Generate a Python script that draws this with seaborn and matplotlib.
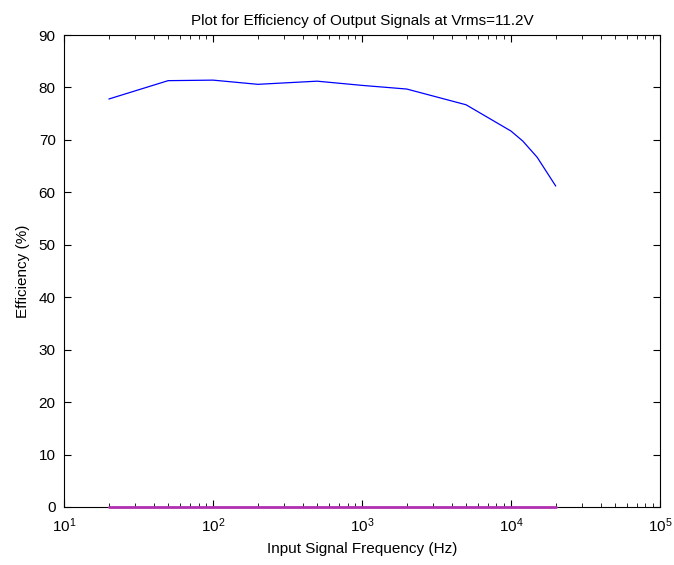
import numpy as np
import pandas as pd
import matplotlib
matplotlib.use("Agg")
import matplotlib.pyplot as plt
import seaborn as sns

sns.set_style("ticks")
plt.rcParams["font.family"] = ["Liberation Sans", "DejaVu Sans"]
plt.rcParams["text.color"] = "black"
plt.rcParams["axes.labelcolor"] = "black"
plt.rcParams["xtick.color"] = "black"
plt.rcParams["ytick.color"] = "black"
plt.rcParams["axes.edgecolor"] = "black"

# frequencies (Hz) and efficiencies (%)
freq = [20, 50, 100, 200, 500, 1000, 2000, 5000, 10000, 12000, 15000, 20000]
eff_out = [77.8, 81.3, 81.4, 80.6, 81.2, 80.4, 79.7, 76.7, 71.7, 69.8, 66.7, 61.2]
eff_zero = [0, 0, 0, 0, 0, 0, 0, 0, 0, 0, 0, 0]

df = pd.DataFrame({"freq": freq, "eff": eff_out})
df0 = pd.DataFrame({"freq": freq, "eff": eff_zero})

fig = plt.figure(figsize=(6.74, 5.65), dpi=100)
ax = fig.add_axes([0.095, 0.1027, 0.884, 0.8353])

sns.lineplot(data=df, x="freq", y="eff", ax=ax, color="#0000ff", linewidth=0.9)
sns.lineplot(data=df0, x="freq", y="eff", ax=ax, color="#b030b0", linewidth=2.0,
             clip_on=False, zorder=5)

ax.set_xscale("log")
ax.set_xlim(10, 1e5)
ax.set_ylim(0, 90)
ax.set_yticks(range(0, 91, 10))

for s in ax.spines.values():
  s.set_visible(True)
  s.set_linewidth(0.8)
ax.tick_params(which="both", direction="in", top=True, right=True, labelsize=11)
ax.tick_params(which="major", length=5)
ax.tick_params(which="minor", length=3)
ax.tick_params(axis="x", which="major", pad=7)
ax.tick_params(axis="y", which="major", pad=6)

ax.set_xlabel("Input Signal Frequency (Hz)", fontsize=11, labelpad=5)
ax.set_ylabel("Efficiency (%)", fontsize=11, labelpad=6)
ax.set_title("Plot for Efficiency of Output Signals at Vrms=11.2V", fontsize=11, pad=7)

fig.savefig("out.png", dpi=100)
